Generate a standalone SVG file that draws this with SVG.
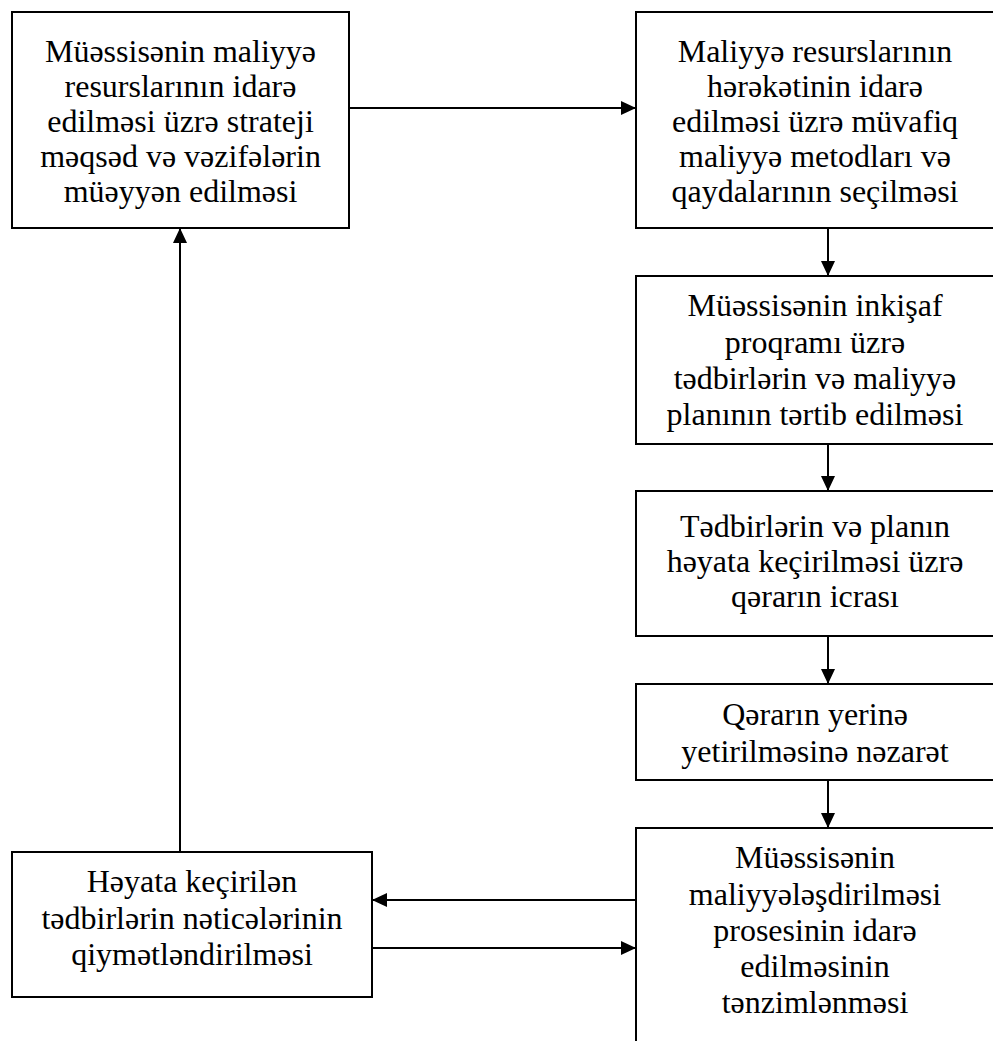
<svg xmlns="http://www.w3.org/2000/svg" width="993" height="1041" viewBox="0 0 993 1041">
<defs>
<style>
.box{fill:#fff;stroke:#000;stroke-width:2}
.t{font-family:"Liberation Serif","Times New Roman",serif;font-size:32px;fill:#000;text-anchor:middle}
.c{stroke:#000;stroke-width:2;fill:none;marker-end:url(#ah)}
</style>
<marker id="ah" markerUnits="userSpaceOnUse" markerWidth="15" markerHeight="14" refX="15" refY="7" orient="auto">
<path d="M0,0 L15,7 L0,14 z" fill="#000"/>
</marker>
</defs>
<rect width="993" height="1041" fill="#fff"/>
<g id="n1">
<rect class="box" x="12" y="12" width="337" height="216"/>
<text class="t" x="180.5"><tspan x="180.5" y="62">Müəssisənin maliyyə</tspan><tspan x="180.5" y="97">resurslarının idarə</tspan><tspan x="180.5" y="132">edilməsi üzrə strateji</tspan><tspan x="180.5" y="167">məqsəd və vəzifələrin</tspan><tspan x="180.5" y="202">müəyyən edilməsi</tspan></text>
</g>
<g id="n2">
<rect class="box" x="636" y="12" width="360" height="216"/>
<text class="t"><tspan x="815" y="62">Maliyyə resurslarının</tspan><tspan x="815" y="97">hərəkətinin idarə</tspan><tspan x="815" y="132">edilməsi üzrə müvafiq</tspan><tspan x="815" y="167">maliyyə metodları və</tspan><tspan x="815" y="202">qaydalarının seçilməsi</tspan></text>
</g>
<g id="n3">
<rect class="box" x="636" y="276" width="360" height="168"/>
<text class="t"><tspan x="815" y="316">Müəssisənin inkişaf</tspan><tspan x="815" y="352.5">proqramı üzrə</tspan><tspan x="815" y="389">tədbirlərin və maliyyə</tspan><tspan x="815" y="425">planının tərtib edilməsi</tspan></text>
</g>
<g id="n4">
<rect class="box" x="636" y="491" width="360" height="145"/>
<text class="t"><tspan x="815" y="536.5">Tədbirlərin və planın</tspan><tspan x="815" y="571.5">həyata keçirilməsi üzrə</tspan><tspan x="815" y="607">qərarın icrası</tspan></text>
</g>
<g id="n5">
<rect class="box" x="636" y="684" width="360" height="96"/>
<text class="t"><tspan x="815" y="725">Qərarın yerinə</tspan><tspan x="815" y="761.5">yetirilməsinə nəzarət</tspan></text>
</g>
<g id="n6">
<rect class="box" x="636" y="828" width="360" height="240"/>
<text class="t"><tspan x="815" y="868">Müəssisənin</tspan><tspan x="815" y="904.5">maliyyələşdirilməsi</tspan><tspan x="815" y="940.5">prosesinin idarə</tspan><tspan x="815" y="976.5">edilməsinin</tspan><tspan x="815" y="1013">tənzimlənməsi</tspan></text>
</g>
<g id="n7">
<rect class="box" x="12" y="852" width="360" height="145"/>
<text class="t"><tspan x="192" y="892">Həyata keçirilən</tspan><tspan x="192" y="928.5">tədbirlərin nəticələrinin</tspan><tspan x="192" y="965">qiymətləndirilməsi</tspan></text>
</g>
<g id="connectors">
<path class="c" d="M349,108 H636"/>
<path class="c" d="M828,228 V276"/>
<path class="c" d="M828,444 V491"/>
<path class="c" d="M828,636 V684"/>
<path class="c" d="M828,780 V828"/>
<path class="c" d="M636,900 H372"/>
<path class="c" d="M372,948 H636"/>
<path class="c" d="M180,852 V228"/>
</g>
</svg>
